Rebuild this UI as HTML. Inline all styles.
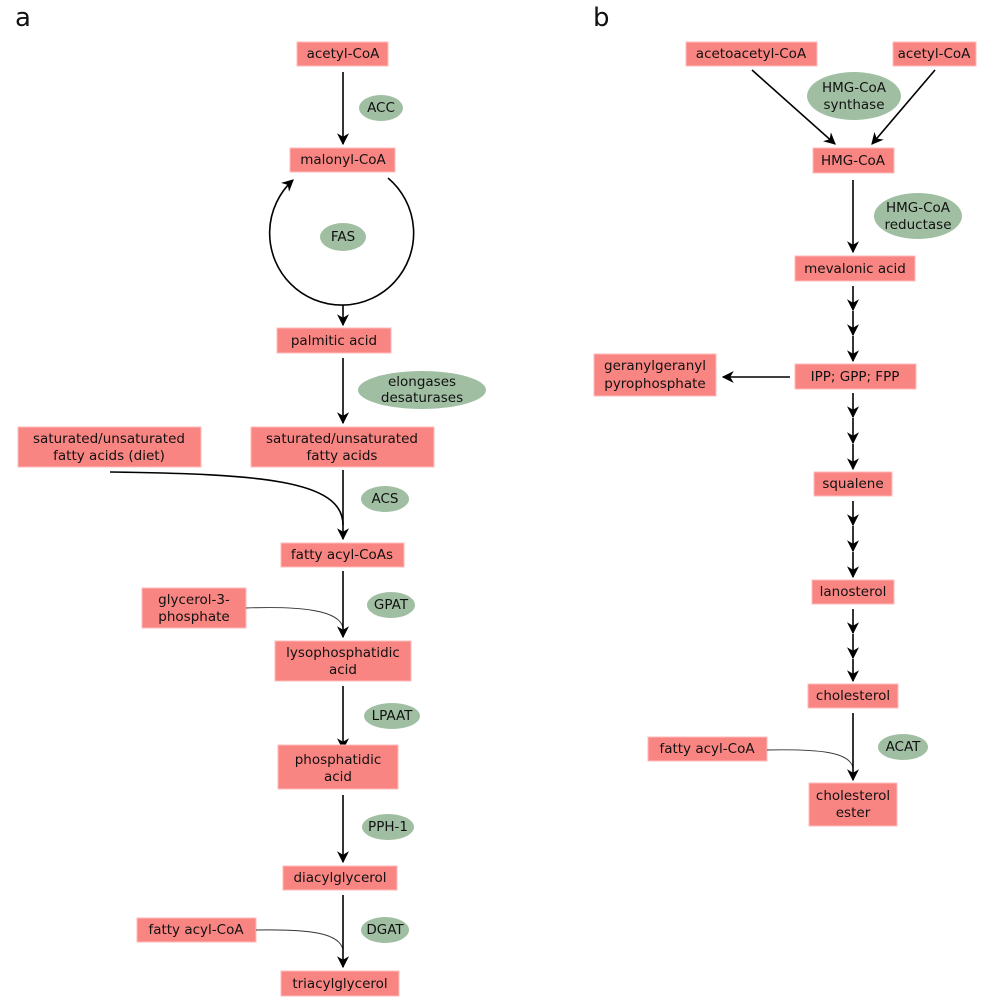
<!DOCTYPE html>
<html><head><meta charset="utf-8"><style>
html,body{margin:0;padding:0;background:#fff;}
svg{display:block;font-family:"DejaVu Sans","Liberation Sans",sans-serif;font-size:13.5px;}
.b{fill:#f98583;stroke:#fbb;stroke-width:1}
.e{fill:#a0bfa2}
.l{stroke:#000;stroke-width:1.6;fill:none}
.t{stroke:#333;stroke-width:0.9;fill:none}
text{fill:#111;text-anchor:middle;dominant-baseline:central}
</style></head><body>
<svg width="987" height="1000" viewBox="0 0 987 1000">
<defs>
<marker id="ar" viewBox="0 0 10 10" refX="9" refY="5" markerWidth="7" markerHeight="7" orient="auto" markerUnits="userSpaceOnUse">
<path d="M0,0 L10,5 L0,10 L3,5 z" fill="#000"/></marker>
<marker id="a2" viewBox="0 0 10 10" refX="9" refY="5" markerWidth="12" markerHeight="12" orient="auto" markerUnits="userSpaceOnUse">
<path d="M0,0 L10,5 L0,10 L3,5 z" fill="#000"/></marker>
</defs>
<text x="15" y="18" style="font-size:26px;text-anchor:start">a</text>
<text x="593" y="18" style="font-size:26px;text-anchor:start">b</text>

<!-- Panel a -->
<rect class="b" x="297" y="42" width="91" height="24"/><text x="343" y="54">acetyl-CoA</text>
<ellipse class="e" cx="381" cy="108" rx="22" ry="13"/><text x="381" y="108">ACC</text>
<line class="l" x1="343" y1="72" x2="343" y2="144" marker-end="url(#a2)"/>
<rect class="b" x="290" y="148" width="105" height="24"/><text x="343" y="160">malonyl-CoA</text>
<path class="l" d="M388,178 A72,72 0 1 1 293,180" marker-end="url(#a2)"/>
<ellipse class="e" cx="343" cy="237" rx="23" ry="14"/><text x="343" y="237">FAS</text>
<line class="l" x1="343" y1="305" x2="343" y2="325" marker-end="url(#a2)"/>
<rect class="b" x="277" y="328" width="114" height="25"/><text x="334" y="341">palmitic acid</text>
<line class="l" x1="343" y1="358" x2="343" y2="423" marker-end="url(#a2)"/>
<ellipse class="e" cx="422" cy="390" rx="64" ry="19"/><text x="422" y="382">elongases</text><text x="422" y="398">desaturases</text>
<rect class="b" x="251" y="427" width="183" height="40"/><text x="342" y="439">saturated/unsaturated</text><text x="342" y="456">fatty acids</text>
<rect class="b" x="18" y="427" width="183" height="40"/><text x="109" y="439">saturated/unsaturated</text><text x="109" y="456">fatty acids (diet)</text>
<path class="l" d="M110,472 C260,474 343,480 343,525"/>
<ellipse class="e" cx="385" cy="499" rx="24" ry="13"/><text x="385" y="499">ACS</text>
<line class="l" x1="343" y1="470" x2="343" y2="539" marker-end="url(#a2)"/>
<rect class="b" x="281" y="543" width="123" height="24"/><text x="342" y="555">fatty acyl-CoAs</text>
<ellipse class="e" cx="391" cy="605" rx="24" ry="13"/><text x="391" y="605">GPAT</text>
<rect class="b" x="142" y="588" width="104" height="40"/><text x="194" y="600">glycerol-3-</text><text x="194" y="617">phosphate</text>
<path class="t" d="M246,608 C300,606 340,610 343,628"/>
<line class="l" x1="343" y1="571" x2="343" y2="637" marker-end="url(#a2)"/>
<rect class="b" x="275" y="641" width="136" height="40"/><text x="343" y="653">lysophosphatidic</text><text x="343" y="670">acid</text>
<ellipse class="e" cx="392" cy="716" rx="28" ry="13"/><text x="392" y="716">LPAAT</text>
<line class="l" x1="343" y1="686" x2="343" y2="749" marker-end="url(#a2)"/>
<rect class="b" x="278" y="745" width="120" height="44"/><text x="338" y="760">phosphatidic</text><text x="338" y="777">acid</text>
<ellipse class="e" cx="388" cy="827" rx="26" ry="13"/><text x="388" y="827">PPH-1</text>
<line class="l" x1="343" y1="795" x2="343" y2="862" marker-end="url(#a2)"/>
<rect class="b" x="283" y="866" width="114" height="24"/><text x="340" y="878">diacylglycerol</text>
<ellipse class="e" cx="385" cy="930" rx="24" ry="13"/><text x="385" y="930">DGAT</text>
<rect class="b" x="137" y="918" width="119" height="24"/><text x="196" y="930">fatty acyl-CoA</text>
<path class="t" d="M256,930 C310,929 340,933 343,950"/>
<line class="l" x1="343" y1="895" x2="343" y2="967" marker-end="url(#a2)"/>
<rect class="b" x="281" y="971" width="118" height="25"/><text x="340" y="984">triacylglycerol</text>

<!-- Panel b -->
<rect class="b" x="686" y="42" width="131" height="24"/><text x="751" y="54">acetoacetyl-CoA</text>
<rect class="b" x="893" y="42" width="83" height="24"/><text x="934" y="54">acetyl-CoA</text>
<line class="l" x1="752" y1="70" x2="835" y2="144" marker-end="url(#a2)"/>
<line class="l" x1="935" y1="70" x2="872" y2="144" marker-end="url(#a2)"/>
<ellipse class="e" cx="854" cy="96" rx="47" ry="24"/><text x="854" y="88">HMG-CoA</text><text x="854" y="105">synthase</text>
<rect class="b" x="813" y="148" width="81" height="25"/><text x="853" y="161">HMG-CoA</text>
<line class="l" x1="853" y1="180" x2="853" y2="252" marker-end="url(#a2)"/>
<ellipse class="e" cx="918" cy="216" rx="44" ry="23"/><text x="918" y="208">HMG-CoA</text><text x="918" y="225">reductase</text>
<rect class="b" x="795" y="256" width="120" height="25"/><text x="855" y="269">mevalonic acid</text>
<g class="l">
<line x1="853" y1="286" x2="853" y2="310" marker-end="url(#a2)"/>
<line x1="853" y1="311" x2="853" y2="335" marker-end="url(#a2)"/>
<line x1="853" y1="336" x2="853" y2="361" marker-end="url(#a2)"/>
<line x1="853" y1="393" x2="853" y2="417" marker-end="url(#a2)"/>
<line x1="853" y1="418" x2="853" y2="443" marker-end="url(#a2)"/>
<line x1="853" y1="444" x2="853" y2="469" marker-end="url(#a2)"/>
<line x1="853" y1="501" x2="853" y2="525" marker-end="url(#a2)"/>
<line x1="853" y1="526" x2="853" y2="551" marker-end="url(#a2)"/>
<line x1="853" y1="552" x2="853" y2="577" marker-end="url(#a2)"/>
<line x1="853" y1="609" x2="853" y2="633" marker-end="url(#a2)"/>
<line x1="853" y1="634" x2="853" y2="658" marker-end="url(#a2)"/>
<line x1="853" y1="659" x2="853" y2="681" marker-end="url(#a2)"/>
</g>
<rect class="b" x="795" y="364" width="121" height="25"/><text x="855" y="377">IPP; GPP; FPP</text>
<line class="l" x1="790" y1="377" x2="723" y2="377" marker-end="url(#a2)"/>
<rect class="b" x="594" y="354" width="122" height="42"/><text x="655" y="366">geranylgeranyl</text><text x="655" y="384">pyrophosphate</text>
<rect class="b" x="814" y="472" width="78" height="24"/><text x="853" y="484">squalene</text>
<rect class="b" x="812" y="580" width="82" height="24"/><text x="853" y="592">lanosterol</text>
<rect class="b" x="808" y="684" width="90" height="24"/><text x="853" y="696">cholesterol</text>
<ellipse class="e" cx="903" cy="747" rx="25" ry="13"/><text x="903" y="747">ACAT</text>
<rect class="b" x="648" y="737" width="119" height="24"/><text x="707" y="749">fatty acyl-CoA</text>
<path class="t" d="M767,750 C820,749 850,752 853,768"/>
<line class="l" x1="853" y1="713" x2="853" y2="780" marker-end="url(#a2)"/>
<rect class="b" x="809" y="783" width="88" height="43"/><text x="853" y="796">cholesterol</text><text x="853" y="813">ester</text>
</svg>
</body></html>
